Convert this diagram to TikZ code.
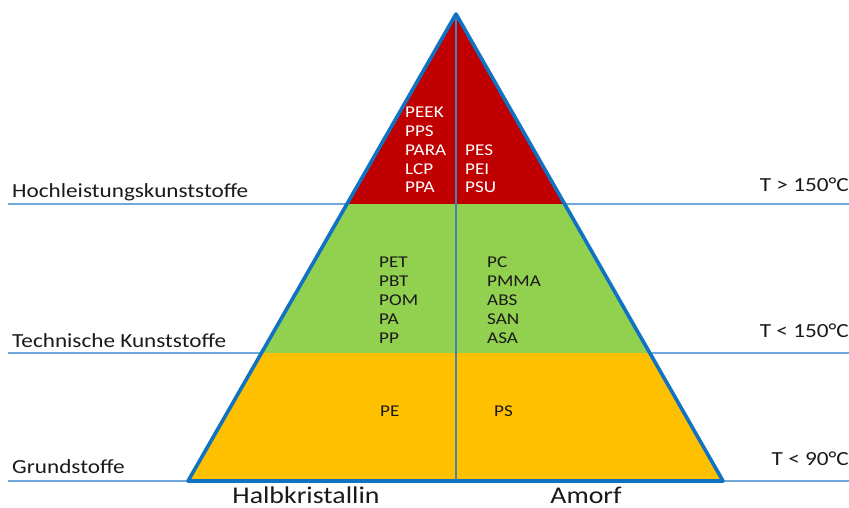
\documentclass[tikz,border=0pt]{standalone}
\usepackage{fontspec}
\setmainfont{Carlito}[FakeStretch=1.16]
\definecolor{pyrred}{HTML}{C00000}
\definecolor{pyrgreen}{HTML}{92D050}
\definecolor{pyryellow}{HTML}{FFC000}
\definecolor{pyroutline}{HTML}{0F72C2}
\definecolor{hlinecol}{HTML}{6FA8DC}
\definecolor{midcol}{HTML}{4A80B4}
\definecolor{txt}{HTML}{1A1A1A}
\tikzset{
  hline/.style={draw=hlinecol, line width=1.6pt},
  midline/.style={draw=midcol, line width=1.3pt},
  outline/.style={draw=pyroutline, line width=3.6pt, line join=round},
  sidelabel/.style={font=\fontsize{20}{24}\selectfont, text=txt, inner sep=0pt},
  baselabel/.style={font=\fontsize{24}{28}\selectfont, text=txt, inner sep=0pt, anchor=base},
  cellw/.style={font=\fontsize{16.5}{18.75}\selectfont, text=white, inner sep=0pt, align=left, anchor=base west},
  cellb/.style={font=\fontsize{16.5}{19}\selectfont, text=txt, inner sep=0pt, align=left, anchor=base west},
}
\begin{document}
\begin{tikzpicture}[x=1pt,y=-1pt]
\useasboundingbox (0,0) rectangle (849,508);
% key points
\coordinate (apex) at (456,14);
\coordinate (bl) at (188,481);
\coordinate (br) at (723,481);
\coordinate (l1) at (347,204);
\coordinate (r1) at (565,204);
\coordinate (l2) at (262,353);
\coordinate (r2) at (651,353);
\coordinate (mb) at (456,481);
% horizontal lines
\coordinate (h1a) at (8,204);  \coordinate (h1b) at (849,204);
\coordinate (h2a) at (8,353);  \coordinate (h2b) at (849,353);
\coordinate (h3a) at (8,481);  \coordinate (h3b) at (849,481);
\draw[hline] (h1a) -- (h1b);
\draw[hline] (h2a) -- (h2b);
\draw[hline] (h3a) -- (h3b);
% bands
\fill[pyrred] (apex) -- (l1) -- (r1) -- cycle;
\fill[pyrgreen] (l1) -- (l2) -- (r2) -- (r1) -- cycle;
\fill[pyryellow] (l2) -- (bl) -- (br) -- (r2) -- cycle;
\draw[midline] (apex) -- (mb);
\draw[outline] (apex) -- (bl) -- (br) -- cycle;
% cell texts (anchored at baseline of last line)
\node[cellw] (redL) at (405,193) {PEEK\\PPS\\PARA\\LCP\\PPA};
\node[cellw] (redR) at (465,193) {PES\\PEI\\PSU};
\node[cellb] (greenL) at (379,343) {PET\\PBT\\POM\\PA\\PP};
\node[cellb] (greenR) at (487,343) {PC\\PMMA\\ABS\\SAN\\ASA};
\node[cellb] (yelL) at (380,416) {PE};
\node[cellb] (yelR) at (494,416) {PS};
% side labels
\node[sidelabel, anchor=base west] (hoch) at (12,197) {Hochleistungskunststoffe};
\node[sidelabel, anchor=base west] (tech) at (12,347) {Technische Kunststoffe};
\node[sidelabel, anchor=base west] (grund) at (12,473) {Grundstoffe};
\node[sidelabel, anchor=base east] (t1) at (849,192) {T > 150°C};
\node[sidelabel, anchor=base east] (t2) at (849,337) {T < 150°C};
\node[sidelabel, anchor=base east] (t3) at (849,465) {T < 90°C};
% bottom labels
\node[baselabel] (halb) at (306,503) {Halbkristallin};
\node[baselabel] (amorf) at (586,503) {Amorf};
\end{tikzpicture}
\end{document}
